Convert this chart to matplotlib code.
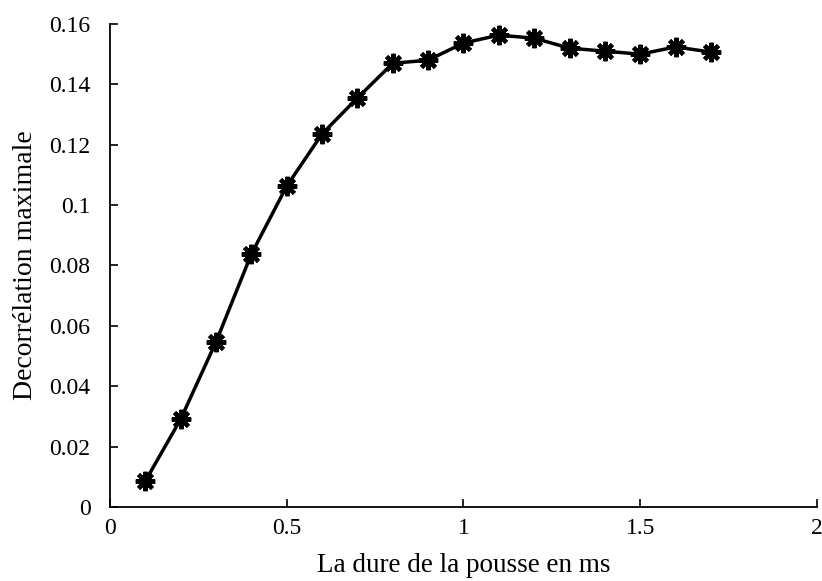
import matplotlib
matplotlib.use("Agg")
import matplotlib.pyplot as plt

plt.rcParams['font.family'] = ['Liberation Serif', 'DejaVu Serif']

# pulse duration (ms) and maximal decorrelation
duree = [0.1, 0.2, 0.3, 0.4, 0.5, 0.6, 0.7, 0.8, 0.9, 1.0, 1.1, 1.2, 1.3, 1.4, 1.5, 1.6, 1.7]
decorr = [0.0086, 0.0291, 0.0547, 0.0838, 0.1063, 0.1236, 0.1355, 0.1470, 0.1480,
          0.1537, 0.1563, 0.1553, 0.1520, 0.1510, 0.1500, 0.1524, 0.1507]
xticks = [0, 0.5, 1, 1.5, 2]
yticks = [0, 0.02, 0.04, 0.06, 0.08, 0.1, 0.12, 0.14, 0.16]
yticklabels = ['0', '0.02', '0.04', '0.06', '0.08', '0.1', '0.12', '0.14', '0.16']

fig = plt.figure(figsize=(8.22, 5.81), dpi=100)
ax = fig.add_axes([0.1338, 0.1274, 0.8601, 0.8313])

ax.plot(duree, decorr, color='black', linewidth=2.5,
        marker=(8, 2, 0), markersize=14, markeredgewidth=3, clip_on=False)

ax.set_xlim(0, 2)
ax.set_ylim(0, 0.16)
ax.set_xticks(xticks)
ax.set_xticklabels(['0', '0.5', '1', '1.5', '2'])
ax.set_yticks(yticks)
ax.set_yticklabels(yticklabels)

for side in ['top', 'right']:
    ax.spines[side].set_visible(False)
for side in ['left', 'bottom']:
    ax.spines[side].set_linewidth(1.3)
ax.tick_params(direction='in', length=6, width=1.2, labelsize=17)
ax.tick_params(axis='y', pad=14)
ax.tick_params(axis='x', pad=8)

ax.set_xlabel('La dure de la pousse en ms', fontsize=19.5, labelpad=10)
ax.set_ylabel('Decorrélation maximale', fontsize=20, labelpad=8)

fig.savefig('out.png', dpi=100)
